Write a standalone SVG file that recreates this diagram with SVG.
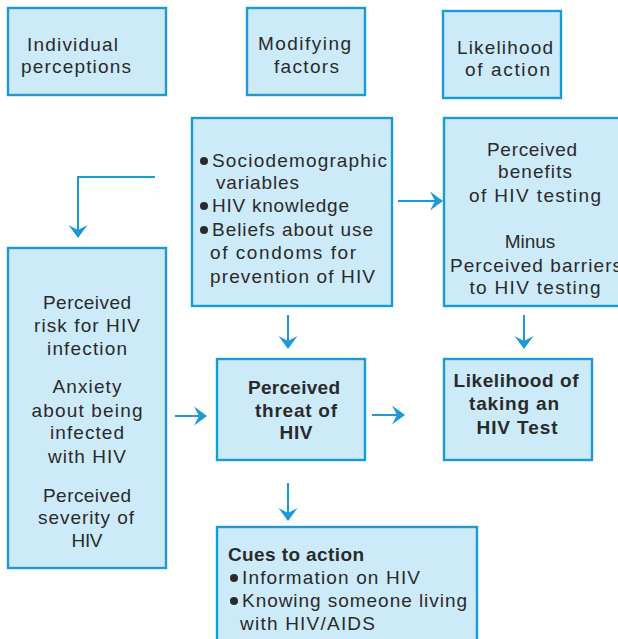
<svg xmlns="http://www.w3.org/2000/svg" width="618" height="639" viewBox="0 0 618 639">
  <style>
    .box { fill: #cdeaf9; stroke: #1b9ad6; stroke-width: 2.4; }
    .t { font-family: "Liberation Sans", Arial, sans-serif; font-size: 19px; fill: #2a2a2a; }
    .c { text-anchor: middle; }
    .b { font-weight: bold; }
    .dot { fill: #2a2a2a; }
    .link { fill: none; stroke: #1b9ad6; stroke-width: 2; marker-end: url(#arrow); }
  </style>
  <defs>
    <marker id="arrow" markerUnits="userSpaceOnUse" viewBox="-14 -11 15 22" markerWidth="15" markerHeight="22" refX="-8" refY="0" orient="auto">
      <path d="M0,0 L-13,-9.5 L-8,0 L-13,9.5 Z" fill="#1b9ad6"/>
    </marker>
  </defs>

  <rect width="618" height="639" fill="#ffffff"/>

  <!-- column headings -->
  <g id="individual-perceptions">
    <rect class="box" x="8" y="8" width="158" height="87"/>
    <text class="t" x="27" y="51" textLength="91" lengthAdjust="spacing">Individual</text>
    <text class="t" x="21" y="73" textLength="110" lengthAdjust="spacing">perceptions</text>
  </g>
  <g id="modifying-factors">
    <rect class="box" x="247" y="8" width="118" height="87"/>
    <text class="t" x="258" y="50" textLength="93" lengthAdjust="spacing">Modifying</text>
    <text class="t" x="274" y="73" textLength="65" lengthAdjust="spacing">factors</text>
  </g>
  <g id="likelihood-of-action">
    <rect class="box" x="443" y="11" width="118" height="87"/>
    <text class="t" x="457" y="54" textLength="96" lengthAdjust="spacing">Likelihood</text>
    <text class="t" x="465" y="76" textLength="85" lengthAdjust="spacing">of action</text>
  </g>

  <!-- modifying factors detail -->
  <g id="factors-list">
    <rect class="box" x="192" y="118" width="200" height="188"/>
    <circle class="dot" cx="204" cy="161" r="4"/>
    <text class="t" x="212" y="167" textLength="175" lengthAdjust="spacing">Sociodemographic</text>
    <text class="t" x="216" y="189" textLength="83" lengthAdjust="spacing">variables</text>
    <circle class="dot" cx="204" cy="206" r="4"/>
    <text class="t" x="212" y="212" textLength="137" lengthAdjust="spacing">HIV knowledge</text>
    <circle class="dot" cx="204" cy="230" r="4"/>
    <text class="t" x="212" y="236" textLength="161" lengthAdjust="spacing">Beliefs about use</text>
    <text class="t" x="210" y="259" textLength="146" lengthAdjust="spacing">of condoms for</text>
    <text class="t" x="210" y="283" textLength="165" lengthAdjust="spacing">prevention of HIV</text>
  </g>

  <g id="benefits-barriers">
    <rect class="box" x="444" y="118" width="200" height="188"/>
    <text class="t c" x="532" y="156" textLength="90" lengthAdjust="spacing">Perceived</text>
    <text class="t c" x="535" y="178" textLength="74" lengthAdjust="spacing">benefits</text>
    <text class="t c" x="535" y="202" textLength="132" lengthAdjust="spacing">of HIV testing</text>
    <text class="t c" x="530" y="248">Minus</text>
    <text class="t" x="450" y="272" textLength="172" lengthAdjust="spacing">Perceived barriers</text>
    <text class="t c" x="535" y="294" textLength="131" lengthAdjust="spacing">to HIV testing</text>
  </g>

  <g id="individual-list">
    <rect class="box" x="8" y="248" width="158" height="320"/>
    <text class="t c" x="87" y="309" textLength="88" lengthAdjust="spacing">Perceived</text>
    <text class="t c" x="87" y="332" textLength="106" lengthAdjust="spacing">risk for HIV</text>
    <text class="t c" x="87" y="355" textLength="80" lengthAdjust="spacing">infection</text>
    <text class="t c" x="87" y="393" textLength="69" lengthAdjust="spacing">Anxiety</text>
    <text class="t c" x="87" y="417" textLength="111" lengthAdjust="spacing">about being</text>
    <text class="t c" x="87" y="439" textLength="74" lengthAdjust="spacing">infected</text>
    <text class="t c" x="87" y="463" textLength="78" lengthAdjust="spacing">with HIV</text>
    <text class="t c" x="87" y="502" textLength="88" lengthAdjust="spacing">Perceived</text>
    <text class="t c" x="86" y="524" textLength="96" lengthAdjust="spacing">severity of</text>
    <text class="t c" x="87" y="547" textLength="31" lengthAdjust="spacing">HIV</text>
  </g>

  <g id="perceived-threat">
    <rect class="box" x="217" y="359" width="148" height="101"/>
    <text class="t b c" x="294" y="394" textLength="92" lengthAdjust="spacing">Perceived</text>
    <text class="t b c" x="296" y="417" textLength="82" lengthAdjust="spacing">threat of</text>
    <text class="t b c" x="296" y="439" textLength="33" lengthAdjust="spacing">HIV</text>
  </g>

  <g id="likelihood-test">
    <rect class="box" x="444" y="359" width="148" height="101"/>
    <text class="t b c" x="516" y="387" textLength="125" lengthAdjust="spacing">Likelihood of</text>
    <text class="t b c" x="514" y="410" textLength="90" lengthAdjust="spacing">taking an</text>
    <text class="t b c" x="517" y="434" textLength="81" lengthAdjust="spacing">HIV Test</text>
  </g>

  <g id="cues-to-action">
    <rect class="box" x="217" y="527" width="260" height="130"/>
    <text class="t b" x="228" y="561" textLength="136" lengthAdjust="spacing">Cues to action</text>
    <circle class="dot" cx="234" cy="578" r="4"/>
    <text class="t" x="242" y="584" textLength="178" lengthAdjust="spacing">Information on HIV</text>
    <circle class="dot" cx="234" cy="601" r="4"/>
    <text class="t" x="242" y="607" textLength="225" lengthAdjust="spacing">Knowing someone living</text>
    <text class="t" x="240" y="630" textLength="135" lengthAdjust="spacing">with HIV/AIDS</text>
  </g>

  <!-- arrows -->
  <g id="connectors">
    <path class="link" d="M155,177 H78 V230"/>
    <path class="link" d="M398,201 H435"/>
    <path class="link" d="M288,315 V341"/>
    <path class="link" d="M524,315 V341"/>
    <path class="link" d="M175,416 H199"/>
    <path class="link" d="M372,415 H397"/>
    <path class="link" d="M288,483 V513"/>
  </g>
</svg>
